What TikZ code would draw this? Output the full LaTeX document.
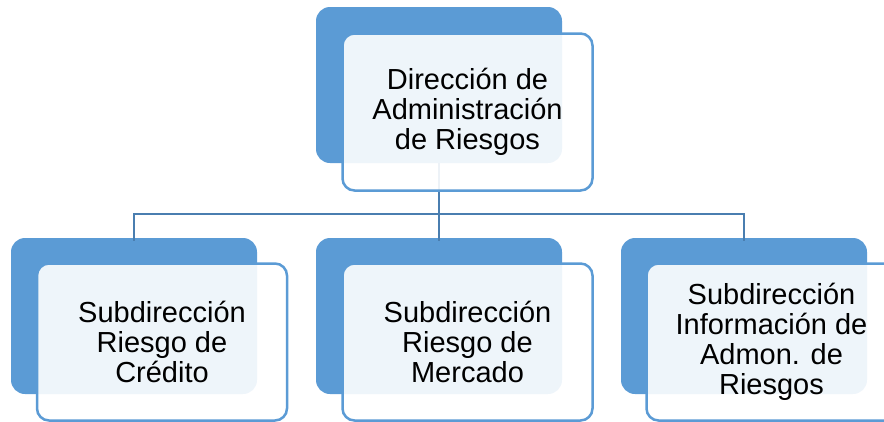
\documentclass[tikz,border=0pt]{standalone}
\usepackage{fontspec}
\setmainfont{Liberation Sans}
\definecolor{backblue}{HTML}{5B9BD5}
\definecolor{edgeblue}{HTML}{5B9BD5}
\definecolor{connblue}{HTML}{4A7EB0}
\begin{document}
\begin{tikzpicture}[x=1pt,y=-1pt,
  backbox/.style={rectangle,rounded corners=14pt,fill=backblue,draw=none,
    minimum width=246pt,minimum height=156pt,inner sep=0pt},
  frontbox/.style={rectangle,rounded corners=12pt,draw=edgeblue,line width=2.5pt,
    fill=white,fill opacity=0.9,text opacity=1,
    minimum width=250pt,minimum height=157pt,inner sep=0pt,
    align=center,font=\fontsize{29}{30}\selectfont},
  conn/.style={draw=connblue,line width=2.5pt}]
\useasboundingbox (0,0) rectangle (884,421);
\clip (0,0) rectangle (884,421);
% back boxes
\node[backbox] (topB) at (439,85) {};
\node[backbox] (leftB) at (134,316) {};
\node[backbox] (midB) at (439,316) {};
\node[backbox] (rightB) at (744,316) {};
% connectors
\coordinate (bus) at (439,214);
\draw[conn] (topB.south) -- (bus);
\draw[conn] (bus) -| ([yshift=-3pt]leftB.north);
\draw[conn] (bus) -| ([yshift=-3pt]rightB.north);
\draw[conn] (bus) -- ([yshift=-3pt]midB.north);
% front boxes
\node[frontbox] (topF) at (467.5,112) {Dirección de\\Administración\\de Riesgos};
\node[frontbox] (leftF) at (162,342) {Subdirección\\Riesgo de\\Crédito};
\node[frontbox] (midF) at (467.5,342) {Subdirección\\Riesgo de\\Mercado};
\node[frontbox] (rightF) at (771.5,342) {Subdirección\\Información de\\Admon. de\\Riesgos};
\end{tikzpicture}
\end{document}
